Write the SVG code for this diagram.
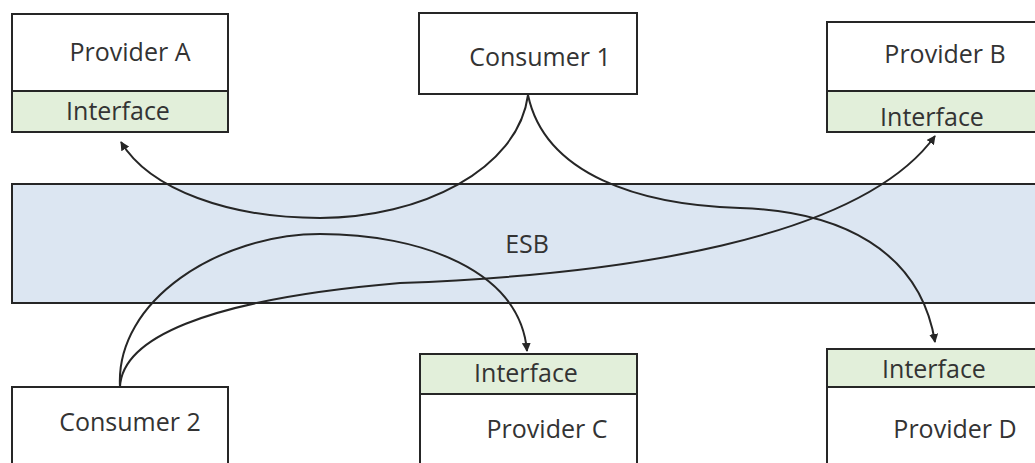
<svg xmlns="http://www.w3.org/2000/svg" width="1035" height="463" viewBox="0 0 1035 463">
<style>
.box{fill:#ffffff;stroke:#262626;stroke-width:2}
.ifc{fill:#e2efda;stroke:#262626;stroke-width:2}
.esb{fill:#dce6f2;stroke:#262626;stroke-width:2}
text{font-family:"Open Sans","Noto Sans","Liberation Sans",sans-serif;font-size:25px;fill:#333333;text-anchor:middle}
.conn{fill:none;stroke:#262626;stroke-width:2}
</style>
<defs>
<marker id="arr" viewBox="0 0 10 10" refX="9" refY="5" markerWidth="9" markerHeight="9" markerUnits="userSpaceOnUse" orient="auto">
<path d="M0,0 L10,5 L0,10 z" fill="#262626"/>
</marker>
</defs>
<rect width="1035" height="463" fill="#ffffff"/>
<g id="esb">
<rect class="esb" x="12" y="184" width="1030" height="119"/>
<text x="527" y="253">ESB</text>
</g>
<g id="provider-a">
<rect class="box" x="12" y="14" width="216" height="77"/>
<rect class="ifc" x="12" y="91" width="216" height="41"/>
<text x="130" y="61">Provider A</text>
<text x="118" y="120">Interface</text>
</g>
<g id="consumer-1">
<rect class="box" x="419" y="13" width="218" height="81"/>
<text x="540" y="66">Consumer 1</text>
</g>
<g id="provider-b">
<rect class="box" x="827" y="22" width="215" height="69"/>
<rect class="ifc" x="827" y="91" width="215" height="41"/>
<text x="945" y="63">Provider B</text>
<text x="932" y="126">Interface</text>
</g>
<g id="consumer-2">
<rect class="box" x="12" y="387" width="216" height="90"/>
<text x="130" y="431">Consumer 2</text>
</g>
<g id="provider-c">
<rect class="ifc" x="420" y="354" width="217" height="40"/>
<rect class="box" x="420" y="394" width="217" height="80"/>
<text x="526" y="382">Interface</text>
<text x="547" y="438">Provider C</text>
</g>
<g id="provider-d">
<rect class="ifc" x="827" y="349" width="215" height="38"/>
<rect class="box" x="827" y="387" width="215" height="90"/>
<text x="934" y="378">Interface</text>
<text x="955" y="438">Provider D</text>
</g>
<g id="connectors">
<path class="conn" marker-end="url(#arr)" d="M528,95 C518,170 420,218 320,218 C230,218 150,190 121,142"/>
<path class="conn" marker-end="url(#arr)" d="M528,95 C545,175 640,205 740,208 C840,211 920,250 935,342"/>
<path class="conn" marker-end="url(#arr)" d="M120,387 C122,340 200,300 400,283 C620,275 860,240 935,136"/>
<path class="conn" marker-end="url(#arr)" d="M120,387 C115,300 220,234 320,234 C420,234 520,270 527,351"/>
</g>
</svg>
